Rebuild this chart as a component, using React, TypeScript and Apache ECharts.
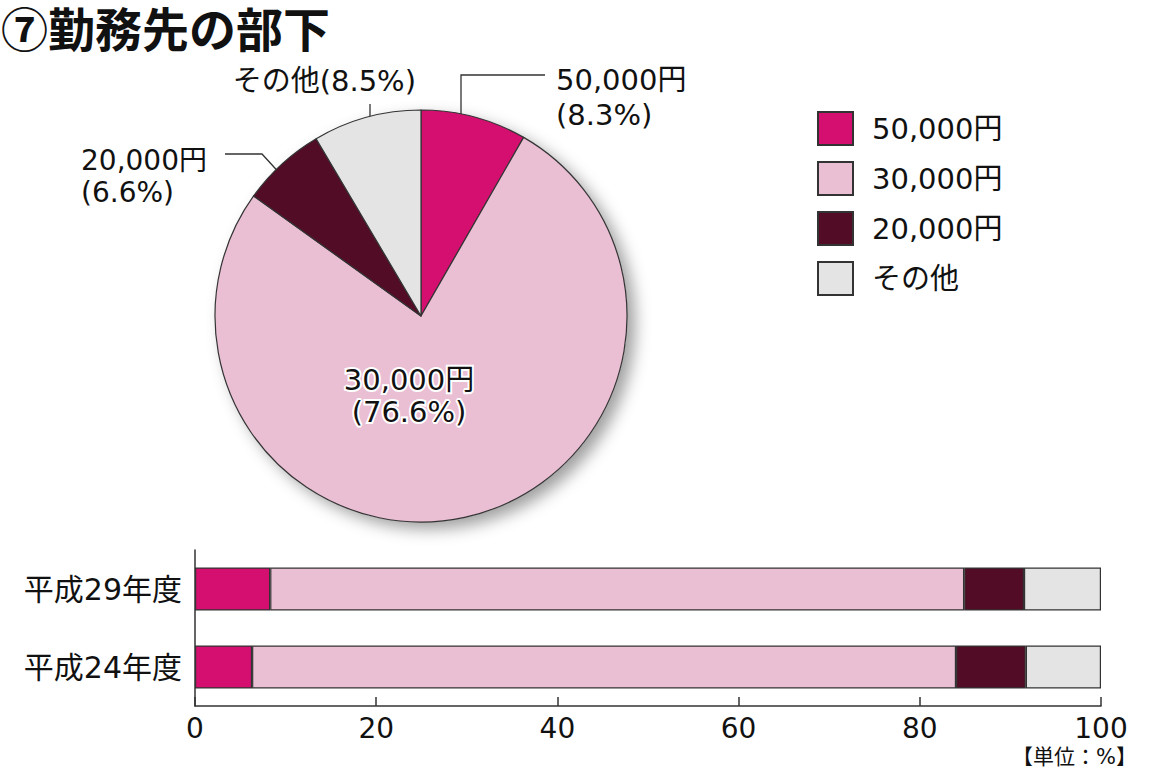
import React, { useEffect, useRef } from "react";
import * as echarts from "echarts";

const titleText = "⑦勤務先の部下";
const categories = ["50,000円", "30,000円", "20,000円", "その他"];
const pieValues = [8.3, 76.6, 6.6, 8.5];
const years = ["平成29年度", "平成24年度"];
const valuesH29 = [8.3, 76.6, 6.6, 8.5];
const valuesH24 = [6.3, 77.7, 7.7, 8.3];
const xTicks = { min: 0, max: 100, interval: 20 };
const unitText = "【単位：%】";
const colors = ["#d40f70", "#eabed3", "#520c26", "#e4e4e4"];

const FONT = "'DejaVu Sans', 'Noto Sans CJK JP', sans-serif";
const CJK = "'Noto Sans CJK JP', sans-serif";

export default function App() {
  const ref = useRef<HTMLDivElement>(null);
  useEffect(() => {
    if (!ref.current) return;
    const chart = echarts.init(ref.current, null, { renderer: "svg" });

    const labelPlacement: Record<number, any> = {
      0: { x: 556, y: 97, align: "left", labelLinePoints: [[461, 141], [461, 75], [545, 75]] },
      1: { x: 409, y: 396, align: "center" },
      2: { x: 81, y: 176, align: "left", labelLinePoints: [[284, 178], [262, 154], [225, 154]] },
      3: { x: 416, y: 81, align: "right", labelLinePoints: [[370, 140], [370, 122], [370, 104]] },
    };
    const lineHeights = [35, 32, 32, 31];
    const fontSizes = [29, 29, 28, 29];

    const pieData = categories.map((name, i) => ({
      name,
      value: pieValues[i],
      itemStyle: { color: colors[i] },
      label: {
        formatter: i === 3 ? "{b}({c}%)" : "{b}\n({c}%)",
        position: i === 1 ? "inside" : "outside",
        fontSize: fontSizes[i],
        lineHeight: lineHeights[i],
        textBorderColor: i === 1 ? "#fff" : "transparent",
        textBorderWidth: i === 1 ? 4 : 0,
      },
      labelLine: { show: i !== 1 },
    }));

    const barSeries = categories.map((name, i) => ({
      type: "bar",
      name,
      stack: "total",
      barWidth: 43,
      data: [valuesH29[i], valuesH24[i]],
      itemStyle: { color: colors[i], borderColor: "#333", borderWidth: 1.2 },
      xAxisIndex: 0,
      yAxisIndex: 0,
      silent: true,
    }));

    chart.setOption({
      animation: false,
      textStyle: { fontFamily: FONT },
      title: {
        text: titleText,
        left: 1,
        top: 3,
        padding: 0,
        textStyle: {
          fontSize: 47,
          lineHeight: 46,
          fontWeight: "bold",
          color: "#111",
          fontFamily: CJK,
        },
      },
      legend: {
        orient: "vertical",
        left: 812,
        top: 106,
        itemWidth: 35,
        itemHeight: 33,
        itemGap: 15,
        icon: "rect",
        data: categories,
        textStyle: {
          fontSize: 29,
          lineHeight: 33,
          color: "#111",
          padding: [0, 0, 0, 14],
          fontFamily: FONT,
        },
        selectedMode: false,
      },
      grid: { left: 195, right: 50, top: 550, height: 156 },
      xAxis: {
        type: "value",
        min: xTicks.min,
        max: xTicks.max,
        interval: xTicks.interval,
        splitLine: { show: false },
        axisLine: { show: true, lineStyle: { color: "#333", width: 1.5 } },
        axisTick: { show: true, inside: true, length: 9, lineStyle: { color: "#333", width: 1.5 } },
        axisLabel: { fontSize: 28, color: "#111", margin: 8, fontFamily: FONT },
      },
      yAxis: {
        type: "category",
        data: years,
        inverse: true,
        axisLine: { show: true, lineStyle: { color: "#333", width: 1.5 } },
        axisTick: { show: false },
        axisLabel: { fontSize: 30, color: "#111", margin: 13, fontFamily: FONT },
      },
      graphic: [
        {
          type: "text",
          right: 14,
          top: 746,
          style: { text: unitText, fontSize: 21, fill: "#111", fontFamily: FONT },
        },
      ],
      series: [
        {
          type: "pie",
          name: "shadow",
          silent: true,
          center: [421, 316],
          radius: 206,
          z: 1,
          label: { show: false },
          labelLine: { show: false },
          data: [{ value: 1, name: "_shadow" }],
          itemStyle: {
            color: "#fff",
            shadowBlur: 16,
            shadowOffsetX: 8,
            shadowOffsetY: 7,
            shadowColor: "rgba(0,0,0,0.38)",
          },
          legendHoverLink: false,
        },
        {
          type: "pie",
          name: "pie",
          center: [421, 316],
          radius: 206,
          startAngle: 90,
          clockwise: true,
          z: 2,
          silent: true,
          itemStyle: { borderColor: "#333", borderWidth: 1.2 },
          label: {
            show: true,
            fontSize: 29,
            color: "#111",
            fontFamily: FONT,
          },
          labelLine: { lineStyle: { color: "#333", width: 1.3 } },
          labelLayout: (params: any) => {
            const p = labelPlacement[params.dataIndex];
            if (!p) return {};
            const out: any = { x: p.x, y: p.y, align: p.align, verticalAlign: "middle" };
            if (p.labelLinePoints) out.labelLinePoints = p.labelLinePoints;
            return out;
          },
          data: pieData,
        },
        ...barSeries,
      ],
    });

    return () => chart.dispose();
  }, []);

  return (
    <div
      ref={ref}
      style={{ position: "fixed", left: 0, top: 0, width: 1151, height: 774, background: "#fff" }}
    />
  );
}
